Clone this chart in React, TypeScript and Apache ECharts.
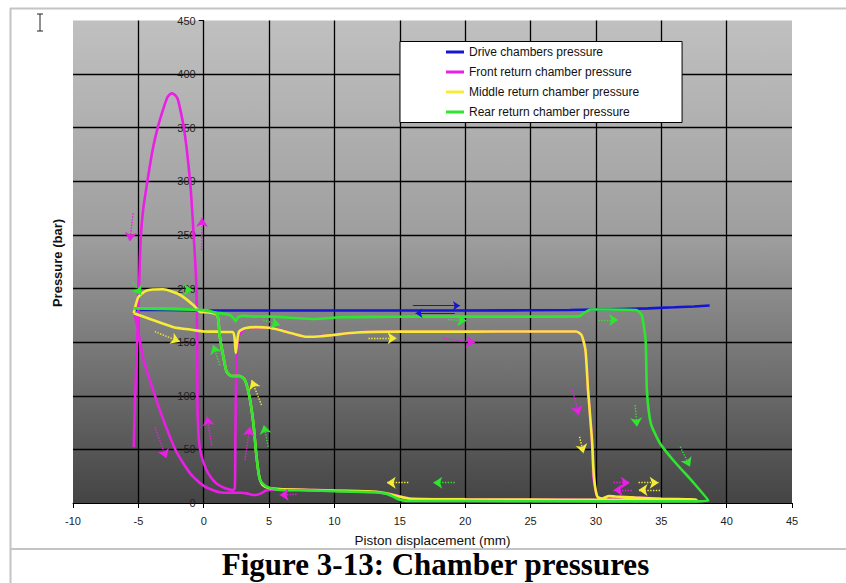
import React, { useEffect, useRef } from "react";
import * as echarts from "echarts";

const X_MIN = -10;
const X_MAX = 45;
const X_STEP = 5;
const Y_MIN = 0;
const Y_MAX = 450;
const Y_STEP = 50;

const SERIES_NAMES = [
  "Drive chambers pressure",
  "Front return chamber pressure",
  "Middle return chamber pressure",
  "Rear return chamber pressure",
];
const SERIES_COLORS = ["#1414d2", "#ea1fe6", "#f4ec36", "#30e530"];

const X_TITLE = "Piston displacement (mm)";
const Y_TITLE = "Pressure (bar)";
const CAPTION = "Figure 3-13: Chamber pressures";

// [displacement mm, pressure bar]
const drivePressure: number[][] = [
  [-5.4, 180], [-3, 180], [0, 179.6], [5, 179.6], [10, 179.5], [15, 179.5],
  [20, 179.6], [25, 179.7], [28, 180], [30, 180.5], [32, 181], [34, 181.5],
  [36, 182.5], [37.5, 183.3], [38.7, 184.2],
];

const frontPressure: number[][] = [
  [-5.35, 52], [-5.3, 80], [-5.2, 115], [-5.1, 150], [-5.0, 180], [-4.95, 200],
  [-4.84, 242], [-4.64, 273], [-4.26, 304], [-3.9, 330], [-3.5, 351], [-3.0, 371],
  [-2.75, 379], [-2.47, 382], [-2.2, 380.5], [-2.0, 377], [-1.83, 369], [-1.55, 352],
  [-1.32, 332], [-1.01, 295], [-0.81, 258], [-0.63, 220], [-0.55, 196], [-0.5, 150],
  [-0.48, 93], [-0.38, 60], [-0.2, 45], [0.2, 31], [0.6, 23], [1, 18], [1.6, 14],
  [2.25, 12], [2.38, 14], [2.42, 60], [2.47, 110], [2.55, 145], [2.7, 156], [3.1, 162],
  [4, 163.5], [5, 163.5], [6, 161], [7, 157], [7.9, 155.3], [9, 155.8], [9.9, 156.7],
  [11.7, 159], [14.8, 159.8], [20, 160], [28.5, 160], [28.9, 156.7], [29.2, 142.7],
  [29.4, 105], [29.7, 58.8], [29.8, 24.5], [30.1, 6], [30.5, 4], [31, 5.5], [33, 5],
  [35, 4], [37.5, 3], [35, 3], [30, 3], [25, 3.3], [20, 3.6], [15.5, 4.5], [14.5, 8],
  [13, 10], [10, 11.5], [7, 12.5], [5.5, 12.5], [4.8, 12], [4.4, 9], [4, 7.5],
  [3.6, 8], [3.3, 9], [2.8, 9.5], [2.3, 9.5], [1.2, 10], [0, 16], [-1.0, 27],
  [-2.1, 48], [-3.1, 78], [-4.0, 110], [-4.64, 135], [-5.05, 163], [-5.3, 176],
];

const middlePressure: number[][] = [
  [-5.35, 177], [-3.9, 170.7], [-2.3, 164], [-0.8, 161.4], [0, 160], [1, 159.8],
  [2.2, 159.5], [2.35, 155], [2.45, 140], [2.55, 150], [2.7, 159.8], [3.15, 163],
  [4, 164], [5, 163.5], [5.8, 161.4], [6.8, 158], [7.9, 155], [9, 155.5], [9.9, 156.7],
  [11.7, 159], [14.8, 159.8], [20.1, 159.8], [25, 160], [28.5, 160], [28.9, 156.7],
  [29.2, 142.7], [29.4, 105], [29.7, 58.8], [29.85, 24.5], [30.1, 6], [30.5, 4.2],
  [31, 6.5], [31.5, 6], [33, 5], [35, 4], [37.7, 3.2], [35, 2.9], [30, 2.9], [25, 3.2],
  [20, 3.4], [15.8, 4], [15, 5.9], [14.2, 8.4], [13.2, 10.5], [10, 11.5], [8.4, 12.1],
  [5.8, 13], [5, 14], [4.5, 17], [4.25, 24.5], [4.04, 43], [3.8, 74], [3.5, 99],
  [3.15, 114.7], [2.76, 118.5], [2.1, 118.5], [1.75, 122.5], [1.5, 136.5], [1.23, 155],
  [1.05, 175], [0.5, 177.5], [0, 178], [-0.3, 178.5], [-0.8, 184.7], [-1.8, 194],
  [-3.1, 199.3], [-4.4, 198], [-5.0, 192], [-5.3, 180], [-5.35, 177],
];

const rearPressure: number[][] = [
  [-5.4, 181.5], [-3, 181.5], [-1, 180.5], [0, 179.5], [1, 177.5], [2, 175.4],
  [2.3, 172], [2.45, 169.5], [2.6, 173], [3, 174.5], [3.8, 174], [5.3, 173.8],
  [7, 172.5], [8.4, 171.6], [10.4, 173.2], [13, 173.6], [16, 173.8], [21, 173.8],
  [25, 173.8], [28.3, 174], [28.8, 174.5], [29.05, 177], [29.6, 180.5], [31, 180.5],
  [33.1, 180], [33.5, 175.4], [33.8, 152], [33.9, 105], [34.2, 74.3], [34.9, 55.7],
  [35.9, 40.1], [37.5, 18.4], [38.6, 2.2], [37, 1.5], [30, 1.5], [20, 1.8], [15.5, 2],
  [15, 3], [14.5, 6], [14, 8.5], [13, 10], [10, 11], [8, 11.8], [5.8, 12.1], [4.8, 15.2],
  [4.3, 21.5], [4.04, 43], [3.8, 74.3], [3.5, 99.2], [3.15, 114.7], [2.76, 118.5],
  [2.1, 118.5], [1.75, 122.5], [1.5, 136.5], [1.23, 155], [1.05, 175.4], [0.5, 179],
  [0, 180], [-5.4, 181.5],
];

// direction arrows: [xFrom, yFrom, xTo, yTo]
const arrowsDrive: number[][] = [
  [16, 184, 19.6, 184],
  [19.2, 177, 16.2, 177],
];
const arrowsFront: number[][] = [
  [-5.4, 270, -5.66, 244],
  [-0.17, 236, -0.12, 266],
  [0.6, 54, 0.26, 80.5],
  [-3.74, 71, -2.85, 41.7],
  [3.15, 40, 3.53, 71],
  [7.1, 8, 5.8, 7.5],
  [18.3, 153.6, 20.76, 149.5],
  [28.2, 105.4, 28.7, 82],
  [31.35, 18.9, 32.6, 18.9],
  [32.75, 12.1, 31.35, 12.1],
];
const arrowsMiddle: number[][] = [
  [-3.74, 159.8, -1.83, 150.5],
  [4.42, 91.4, 3.66, 114.7],
  [12.6, 153.6, 14.76, 153.6],
  [28.75, 61.8, 29.05, 46.4],
  [33.26, 18.9, 34.8, 18.9],
  [34.9, 12.1, 33.26, 12.1],
  [15.65, 18.9, 14.0, 18.9],
];
const arrowsRear: number[][] = [
  [-5.42, 206, -4.8, 194],
  [-1.6, 199, -0.83, 198.7],
  [4.55, 170.7, 5.83, 166],
  [1.23, 128.7, 0.72, 147.4],
  [4.93, 52.5, 4.6, 72.8],
  [18.7, 171, 20.1, 170],
  [30.2, 170.7, 31.7, 170.7],
  [33.0, 91.4, 33.14, 71.2],
  [36.45, 52.5, 37.2, 33.9],
  [19.2, 18.9, 17.56, 18.9],
];

const FONT = '"Liberation Sans", Arial, sans-serif';

const GRID_LEFT = 73;
const GRID_RIGHT = 54;
const CHART_W = 846;

export default function App() {
  const ref = useRef<HTMLDivElement>(null);

  useEffect(() => {
    if (!ref.current) return;
    const chart = echarts.init(ref.current, null, { renderer: "svg" });

    const curves = [drivePressure, frontPressure, middlePressure, rearPressure];
    const arrows = [arrowsDrive, arrowsFront, arrowsMiddle, arrowsRear];

    const lineSeries = curves.map((d, i) => ({
      name: SERIES_NAMES[i],
      type: "line",
      data: d,
      showSymbol: false,
      symbol: "none",
      silent: true,
      smooth: i === 0 ? false : 0.2,
      z: 2 + i,
      lineStyle: { color: SERIES_COLORS[i], width: 2.6 },
      itemStyle: { color: SERIES_COLORS[i] },
    }));

    const arrowSeries = arrows.map((arr, i) => ({
      type: "lines",
      coordinateSystem: "cartesian2d",
      silent: true,
      z: 10,
      symbol: ["none", "arrow"],
      symbolSize: i === 0 ? 7 : 9,
      lineStyle: {
        color: SERIES_COLORS[i],
        width: i === 0 ? 1 : 1.4,
        type: i === 0 ? "solid" : "dotted",
        opacity: 1,
        curveness: 0,
      },
      data: arr.map((a) => ({ coords: [[a[0], a[1]], [a[2], a[3]]] })),
    }));

    // y axis sits on x = 0: shift it right from the grid's left edge
    const plotW = CHART_W - GRID_LEFT - GRID_RIGHT;
    const zeroOffset = ((0 - X_MIN) / (X_MAX - X_MIN)) * plotW;

    chart.setOption({
      animation: false,
      textStyle: { fontFamily: FONT },
      grid: {
        left: GRID_LEFT,
        right: GRID_RIGHT,
        top: 20.5,
        bottom: 80,
        show: true,
        borderWidth: 0,
        backgroundColor: new echarts.graphic.LinearGradient(0, 0, 0, 1, [
          { offset: 0, color: "#c0c0c0" },
          { offset: 0.45, color: "#9e9e9e" },
          { offset: 1, color: "#444444" },
        ]),
      },
      legend: {
        data: SERIES_NAMES,
        orient: "vertical",
        left: 400,
        top: 41.5,
        backgroundColor: "#ffffff",
        borderColor: "#000000",
        borderWidth: 1,
        padding: [4, 43, 4, 46],
        itemGap: 7,
        itemWidth: 18,
        itemHeight: 3,
        icon: "rect",
        selectedMode: false,
        textStyle: { fontSize: 12, lineHeight: 13, color: "#111", fontFamily: FONT },
      },
      xAxis: {
        type: "value",
        min: X_MIN,
        max: X_MAX,
        interval: X_STEP,
        name: X_TITLE,
        nameLocation: "middle",
        nameGap: 30,
        nameTextStyle: { fontSize: 13.5, color: "#111", fontFamily: FONT },
        axisLine: { show: true, onZero: false, lineStyle: { color: "#000", width: 1 } },
        axisTick: { show: true, length: 5, lineStyle: { color: "#000" } },
        axisLabel: { fontSize: 11, color: "#222", margin: 12 },
        splitLine: {
          show: true,
          showMinLine: false,
          showMaxLine: false,
          lineStyle: { color: "#000", width: 1.3 },
        },
      },
      yAxis: {
        type: "value",
        min: Y_MIN,
        max: Y_MAX,
        interval: Y_STEP,
        position: "left",
        offset: -zeroOffset,
        axisLine: { show: true, onZero: false, lineStyle: { color: "#000", width: 1 } },
        axisTick: { show: true, length: 5, lineStyle: { color: "#000" } },
        axisLabel: { fontSize: 11, color: "#222", margin: 8 },
        splitLine: {
          show: true,
          showMinLine: false,
          showMaxLine: false,
          lineStyle: { color: "#000", width: 1.3 },
        },
      },
      graphic: [
        {
          type: "line",
          silent: true,
          shape: { x1: 10, y1: 8.5, x2: 846, y2: 8.5 },
          style: { stroke: "#c4c4c4", lineWidth: 2 },
        },
        {
          type: "line",
          silent: true,
          shape: { x1: 10.5, y1: 8, x2: 10.5, y2: 583 },
          style: { stroke: "#c4c4c4", lineWidth: 2 },
        },
        {
          type: "line",
          silent: true,
          shape: { x1: 10, y1: 549, x2: 846, y2: 549 },
          style: { stroke: "#c4c4c4", lineWidth: 2 },
        },
        {
          type: "line",
          silent: true,
          shape: { x1: 40, y1: 14, x2: 40, y2: 31 },
          style: { stroke: "#222", lineWidth: 1 },
        },
        {
          type: "line",
          silent: true,
          shape: { x1: 37, y1: 14, x2: 43, y2: 14 },
          style: { stroke: "#222", lineWidth: 1 },
        },
        {
          type: "line",
          silent: true,
          shape: { x1: 37, y1: 31, x2: 43, y2: 31 },
          style: { stroke: "#222", lineWidth: 1 },
        },
        {
          type: "text",
          silent: true,
          x: 57,
          y: 263,
          rotation: Math.PI / 2,
          style: {
            text: Y_TITLE,
            fontSize: 13,
            fontWeight: "bold",
            fontFamily: FONT,
            fill: "#111",
            align: "center",
            verticalAlign: "middle",
            textAlign: "center",
            textVerticalAlign: "middle",
          },
        },
        {
          type: "text",
          silent: true,
          x: 435.5,
          y: 564,
          style: {
            text: CAPTION,
            fontSize: 31,
            fontWeight: "bold",
            fontFamily: '"Liberation Serif", "Times New Roman", serif',
            fill: "#000",
            align: "center",
            verticalAlign: "middle",
            textAlign: "center",
            textVerticalAlign: "middle",
          },
        },
      ],
      series: [...lineSeries, ...arrowSeries],
    });

    return () => {
      chart.dispose();
    };
  }, []);

  return (
    <div
      ref={ref}
      style={{ position: "absolute", left: 0, top: 0, width: 846, height: 583, background: "#fff" }}
    />
  );
}
